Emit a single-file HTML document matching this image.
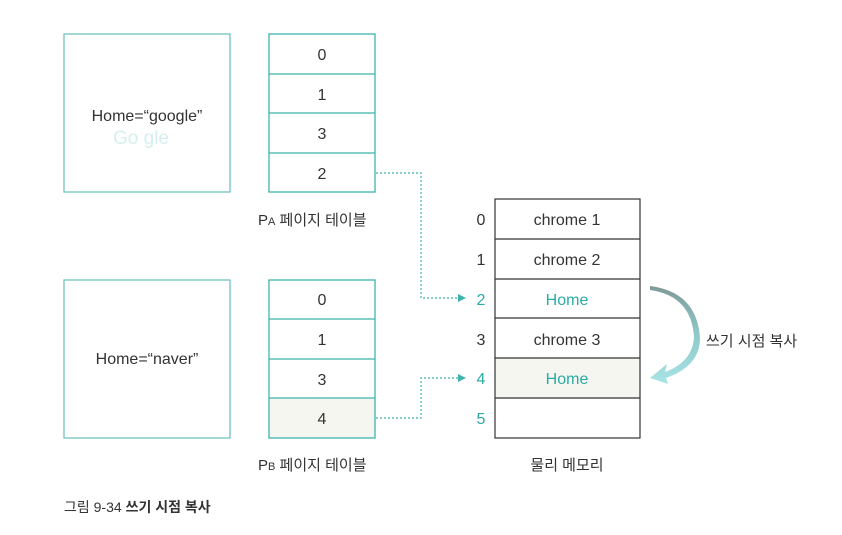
<!DOCTYPE html>
<html><head><meta charset="utf-8"><style>
body{margin:0;width:842px;height:530px;background:#fff;overflow:hidden}
svg text{font-family:"Liberation Sans","Noto Sans CJK KR",sans-serif}
</style></head><body>
<svg width="842" height="530" viewBox="0 0 842 530" xmlns="http://www.w3.org/2000/svg">
<defs><linearGradient id="g" x1="0" y1="0" x2="0" y2="1"><stop offset="0" stop-color="#7f9a98"/><stop offset="0.5" stop-color="#8fc9c9"/><stop offset="1" stop-color="#a8e4e6"/></linearGradient></defs>
<g fill="none" stroke="#6fc4c0" stroke-width="1.3">
<rect x="64" y="34" width="166" height="158"/>
<rect x="64" y="280" width="166" height="158"/>
</g>
<rect x="269" y="398" width="106" height="40" fill="#f6f6f0"/>
<g fill="none" stroke="#3fb3ad" stroke-width="1.3">
<rect x="269" y="34" width="106" height="158"/>
<line x1="269" y1="74" x2="375" y2="74"/><line x1="269" y1="113" x2="375" y2="113"/><line x1="269" y1="153" x2="375" y2="153"/>
<rect x="269" y="280" width="106" height="158"/>
<line x1="269" y1="319" x2="375" y2="319"/><line x1="269" y1="359" x2="375" y2="359"/><line x1="269" y1="398" x2="375" y2="398"/>
</g>
<text x="147" y="121" font-size="16" text-anchor="middle" fill="#333">Home=“google”</text>
<text x="141" y="144" font-size="19" text-anchor="middle" fill="#d4f0ee">Go  gle</text>
<text x="147" y="364" font-size="16" text-anchor="middle" fill="#333">Home=“naver”</text>
<g font-size="16" fill="#333" text-anchor="middle">
<text x="322" y="60">0</text><text x="322" y="100">1</text><text x="322" y="139">3</text><text x="322" y="179">2</text>
<text x="322" y="305">0</text><text x="322" y="345">1</text><text x="322" y="385">3</text><text x="322" y="424">4</text>
</g>
<text x="258" y="225" font-size="15" fill="#333">P<tspan font-size="11">A</tspan> 페이지 테이블</text>
<text x="258" y="470" font-size="15" fill="#333">P<tspan font-size="11">B</tspan> 페이지 테이블</text>
<rect x="495" y="358" width="145" height="40" fill="#f6f6f0"/>
<g fill="none" stroke="#333" stroke-width="1.2">
<rect x="495" y="199" width="145" height="239"/>
<line x1="495" y1="239" x2="640" y2="239"/><line x1="495" y1="279" x2="640" y2="279"/><line x1="495" y1="318" x2="640" y2="318"/><line x1="495" y1="358" x2="640" y2="358"/><line x1="495" y1="398" x2="640" y2="398"/>
</g>
<g font-size="16" text-anchor="middle">
<text x="567" y="225" fill="#333">chrome 1</text><text x="567" y="265" fill="#333">chrome 2</text>
<text x="567" y="305" fill="#2aaba5">Home</text><text x="567" y="345" fill="#333">chrome 3</text>
<text x="567" y="384" fill="#2aaba5">Home</text>
<text x="481" y="225" fill="#333">0</text><text x="481" y="265" fill="#333">1</text>
<text x="481" y="305" fill="#2aaba5">2</text><text x="481" y="345" fill="#333">3</text>
<text x="481" y="384" fill="#2aaba5">4</text><text x="481" y="424" fill="#2aaba5">5</text>
</g>
<text x="567" y="470" font-size="15" text-anchor="middle" fill="#333">물리 메모리</text>
<g fill="none" stroke="#3fb3ad" stroke-width="1.2" stroke-dasharray="2,2">
<polyline points="376,173 421,173 421,298 458,298"/>
<polyline points="376,418 421,418 421,378 458,378"/>
</g>
<polygon points="458,294 466,298 458,302" fill="#3fb3ad"/>
<polygon points="458,374 466,378 458,382" fill="#3fb3ad"/>
<path d="M650,290 Q692,296 694,338 Q692,362 665,372 L667,364 L650,378 L668,384 L666,378 Q700,366 700,338 Q697,292 650,286 Z" fill="url(#g)"/>
<text x="706" y="346" font-size="15" fill="#333">쓰기 시점 복사</text>
<text x="64" y="512" font-size="14" fill="#333">그림 9-34 <tspan font-weight="bold">쓰기 시점 복사</tspan></text>
</svg>
</body></html>
